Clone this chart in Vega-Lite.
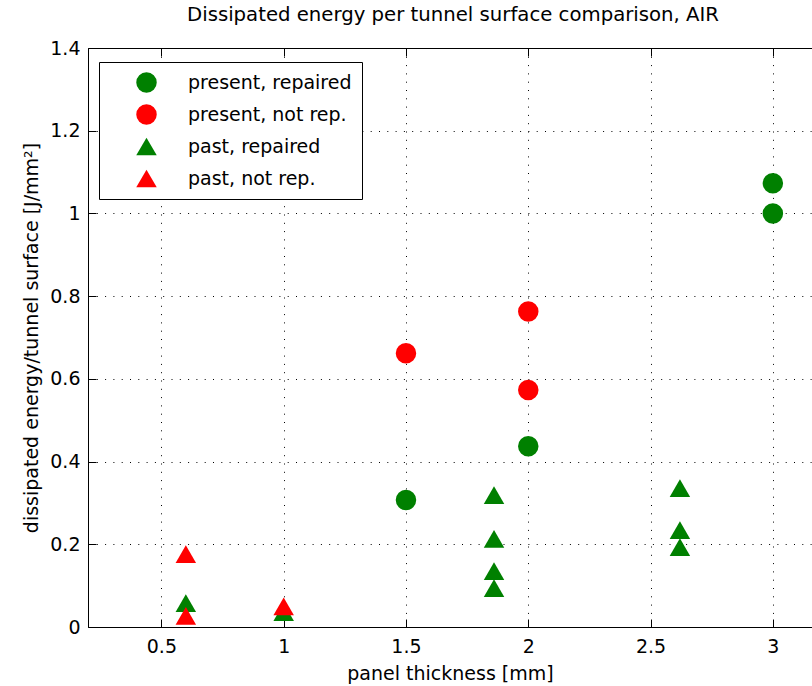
{
  "$schema": "https://vega.github.io/schema/vega-lite/v6.json",
  "autosize": {"type": "none"},
  "width": 724,
  "height": 579,
  "padding": {"left": 88, "top": 48, "right": 0, "bottom": 59},
  "background": "white",
  "title": {"text": "Dissipated energy per tunnel surface comparison, AIR", "fontSize": 19.7, "fontWeight": "normal", "font": "DejaVu Sans", "color": "black", "offset": 14, "anchor": "middle", "dx": 3},
  "config": {
    "font": "DejaVu Sans",
    "view": {"stroke": null},
    "axis": {
      "domainColor": "black", "domainWidth": 1, "tickColor": "black", "tickWidth": 1,
      "labelColor": "black", "labelFontSize": 19, "labelFont": "DejaVu Sans",
      "titleColor": "black", "titleFontSize": 19, "titleFontWeight": "normal", "titleFont": "DejaVu Sans",
      "gridColor": "black", "gridDash": [1, 7.3], "gridOpacity": 1, "gridWidth": 1,
      "labelFlush": false
    },
    "legend": {
      "orient": "none", "legendX": 11, "legendY": 14,
      "strokeColor": "black", "fillColor": "white", "padding": 10,
      "symbolSize": 420, "labelFontSize": 19, "labelColor": "black", "labelFont": "DejaVu Sans", "labelLimit": 400,
      "rowPadding": 11, "symbolOffset": 27, "labelOffset": 31, "symbolStrokeWidth": 0
    }
  },
  "data": {
    "values": [
      {"t": 1.5, "e": 0.307, "series": "present, repaired"},
      {"t": 2.0, "e": 0.437, "series": "present, repaired"},
      {"t": 3.0, "e": 1.0, "series": "present, repaired"},
      {"t": 3.0, "e": 1.073, "series": "present, repaired"},
      {"t": 1.5, "e": 0.662, "series": "present, not rep."},
      {"t": 2.0, "e": 0.763, "series": "present, not rep."},
      {"t": 2.0, "e": 0.573, "series": "present, not rep."},
      {"t": 0.6, "e": 0.058, "series": "past, repaired"},
      {"t": 1.0, "e": 0.036, "series": "past, repaired"},
      {"t": 1.86, "e": 0.319, "series": "past, repaired"},
      {"t": 1.86, "e": 0.213, "series": "past, repaired"},
      {"t": 1.86, "e": 0.135, "series": "past, repaired"},
      {"t": 1.86, "e": 0.094, "series": "past, repaired"},
      {"t": 2.62, "e": 0.336, "series": "past, repaired"},
      {"t": 2.62, "e": 0.234, "series": "past, repaired"},
      {"t": 2.62, "e": 0.193, "series": "past, repaired"},
      {"t": 0.6, "e": 0.176, "series": "past, not rep."},
      {"t": 0.6, "e": 0.027, "series": "past, not rep."},
      {"t": 1.0, "e": 0.05, "series": "past, not rep."}
    ]
  },
  "resolve": {"axis": {"x": "independent"}},
  "layer": [
    {
      "mark": {"type": "point", "filled": true, "opacity": 1, "size": 420},
      "encoding": {
        "x": {"field": "t", "type": "quantitative",
          "scale": {"domain": [0.2, 3.16], "nice": false, "zero": false},
          "axis": {"orient": "bottom", "values": [0.5, 1, 1.5, 2, 2.5, 3], "format": "~g", "title": "panel thickness [mm]",
            "tickSize": -8, "labelPadding": 18, "titlePadding": 8, "grid": true}},
        "y": {"field": "e", "type": "quantitative",
          "scale": {"domain": [0, 1.4], "nice": false},
          "axis": {"values": [0, 0.2, 0.4, 0.6, 0.8, 1, 1.2, 1.4], "format": "~g", "title": "dissipated energy/tunnel surface [J/mm²]",
            "tickSize": -8, "labelPadding": 16, "titlePadding": 8, "grid": true}},
        "color": {"field": "series", "type": "nominal",
          "scale": {"domain": ["present, repaired", "present, not rep.", "past, repaired", "past, not rep."], "range": ["#008000", "#ff0000", "#008000", "#ff0000"]},
          "legend": {"title": null}},
        "shape": {"field": "series", "type": "nominal",
          "scale": {"domain": ["present, repaired", "present, not rep.", "past, repaired", "past, not rep."], "range": ["circle", "circle", "triangle-up", "triangle-up"]},
          "legend": {"title": null}}
      }
    },
    {
      "mark": {"type": "point", "opacity": 0},
      "encoding": {
        "x": {"field": "t", "type": "quantitative",
          "axis": {"orient": "top", "values": [0.5, 1, 1.5, 2, 2.5, 3], "labels": false, "title": null, "tickSize": -8, "grid": false}},
        "y": {"field": "e", "type": "quantitative"}
      }
    }
  ]
}
